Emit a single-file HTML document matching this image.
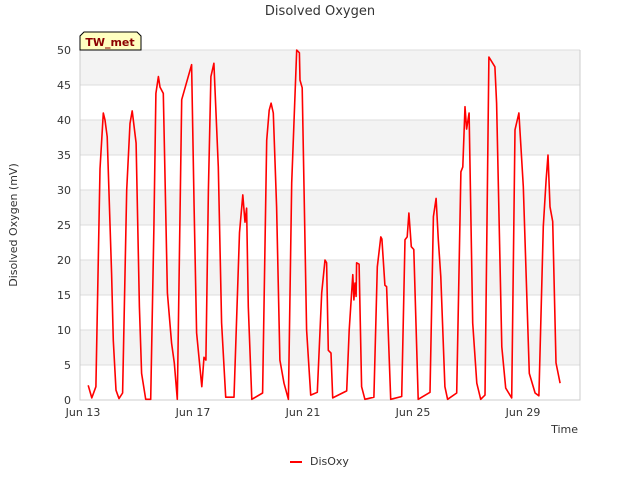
<!DOCTYPE html>
<html><head><meta charset="utf-8"><style>
body{margin:0;background:#fff;font-family:"DejaVu Sans","Liberation Sans",sans-serif;}
</style></head><body>
<svg width="640" height="480" xmlns="http://www.w3.org/2000/svg" id="chart">
<text x="320" y="15" text-anchor="middle" font-size="13" fill="#333">Disolved Oxygen</text>
<g id="grid"></g>
<g id="yticks"></g>
<g id="xticks"></g>
<text transform="translate(17,225) rotate(-90)" text-anchor="middle" font-size="11" fill="#333">Disolved Oxygen (mV)</text>
<text x="578" y="433" text-anchor="end" font-size="11" fill="#333">Time</text>
<polyline id="line" fill="none" stroke="#ff0000" stroke-width="1.6" stroke-linejoin="round"/>
<g>
<path d="M80,50 L80,36 L84,32 L137,32 L141,36 L141,50 Z" fill="#ffffc0" stroke="#000" stroke-width="1"/>
<text x="110" y="46" text-anchor="middle" font-size="11" font-weight="bold" fill="#8b0000">TW_met</text>
</g>
<g>
<line x1="290" y1="462" x2="302" y2="462" stroke="#ff0000" stroke-width="2"/>
<text x="310" y="465" font-size="11" fill="#333">DisOxy</text>
</g>
</svg>
<script>
const yTicks=[0,5,10,15,20,25,30,35,40,45,50];
const xTickDays=[0,4,8,12,16];
const xTickLabels=["Jun 13","Jun 17","Jun 21","Jun 25","Jun 29"];
const days=[0.19,0.32,0.47,0.62,0.74,0.8,0.88,1.04,1.1,1.2,1.31,1.44,1.59,1.71,1.79,1.93,2.05,2.13,2.28,2.46,2.58,2.65,2.74,2.8,2.92,3.07,3.22,3.32,3.43,3.59,3.95,4.04,4.13,4.32,4.4,4.47,4.56,4.65,4.76,4.92,5.04,5.19,5.49,5.69,5.81,5.89,5.95,6.01,6.14,6.53,6.68,6.77,6.84,6.92,7.04,7.16,7.31,7.47,7.59,7.77,7.87,7.89,7.97,8.13,8.28,8.52,8.68,8.8,8.86,8.92,9.02,9.08,9.59,9.68,9.81,9.85,9.89,9.93,9.95,10.04,10.13,10.25,10.58,10.7,10.83,10.87,10.98,11.04,11.19,11.59,11.71,11.79,11.85,11.94,12.03,12.19,12.62,12.74,12.84,12.92,13.01,13.16,13.26,13.59,13.74,13.81,13.89,13.95,14.04,14.17,14.32,14.46,14.62,14.76,14.98,15.04,15.23,15.37,15.59,15.71,15.85,16.01,16.23,16.44,16.58,16.74,16.84,16.91,16.98,17.08,17.2,17.35];
const values=[2.1,0.3,1.9,33,41,40,37.6,18,8.5,1.4,0.2,1,30,39.5,41.3,36.7,13.3,3.8,0.1,0.1,24.7,43.8,46.2,44.7,43.8,15.3,8.1,5.3,0.1,42.9,47.9,27.6,9.6,1.9,6.1,5.7,30,46.2,48.1,33.3,11,0.4,0.4,23.9,29.3,25.4,27.4,13.3,0.1,1,37.1,41.4,42.4,41,27.6,5.7,2.4,0.1,31,50,49.6,45.7,44.6,10,0.7,1.1,15.3,20,19.6,7.1,6.7,0.3,1.3,10,17.9,14.3,16.7,14.8,19.6,19.4,1.9,0.1,0.4,19,23.3,23,16.4,16.2,0.1,0.5,22.9,23.3,26.7,21.9,21.5,0.1,1.1,26.2,28.8,22.9,17.6,1.9,0.1,1,32.6,33.3,41.9,38.7,41,11,2.4,0.1,0.7,49,47.6,42.4,7.6,1.7,0.3,38.6,41,30.5,3.8,1,0.6,24.8,31.4,35,27.6,25.5,5.3,2.4];
const X0=80,X1=580,Y0=50,Y1=400;
const xs=d=>83+d*27.5;
const ys=v=>Y1-(v/50)*(Y1-Y0);
const NS="http://www.w3.org/2000/svg";
const grid=document.getElementById('grid'),yt=document.getElementById('yticks'),xt=document.getElementById('xticks');
for(let i=0;i<yTicks.length-1;i++){
  const r=document.createElementNS(NS,'rect');
  
  
  r.setAttribute('x',X0);r.setAttribute('width',X1-X0);
  r.setAttribute('y',ys(yTicks[i+1]));r.setAttribute('height',ys(yTicks[i])-ys(yTicks[i+1]));
  r.setAttribute('fill',(i%2==1)?'#f3f3f3':'#ffffff');
  grid.appendChild(r);
}
yTicks.forEach(v=>{
  const l=document.createElementNS(NS,'line');
  
  
  l.setAttribute('x1',X0);l.setAttribute('x2',X1);l.setAttribute('y1',ys(v));l.setAttribute('y2',ys(v));
  l.setAttribute('stroke','#dddddd');grid.appendChild(l);
  const t=document.createElementNS(NS,'text');
  
  
  t.setAttribute('x',71);t.setAttribute('y',ys(v)+4);t.setAttribute('text-anchor','end');
  t.setAttribute('font-size','11');t.setAttribute('fill','#333');t.textContent=v;yt.appendChild(t);
});
const ax=document.createElementNS(NS,'path');


ax.setAttribute('d',`M${X0},${Y0} L${X0},${Y1} L${X1},${Y1} L${X1},${Y0}`);
ax.setAttribute('fill','none');ax.setAttribute('stroke','#cccccc');grid.appendChild(ax);
xTickDays.forEach((d,i)=>{
  const t=document.createElementNS(NS,'text');
  
  
  t.setAttribute('x',xs(d));t.setAttribute('y',416);t.setAttribute('text-anchor','middle');
  t.setAttribute('font-size','11');t.setAttribute('fill','#333');t.textContent=xTickLabels[i];xt.appendChild(t);
});
document.getElementById('line').setAttribute('points',days.map((d,i)=>xs(d).toFixed(1)+','+ys(values[i]).toFixed(1)).join(' '));
</script>
</body></html>
